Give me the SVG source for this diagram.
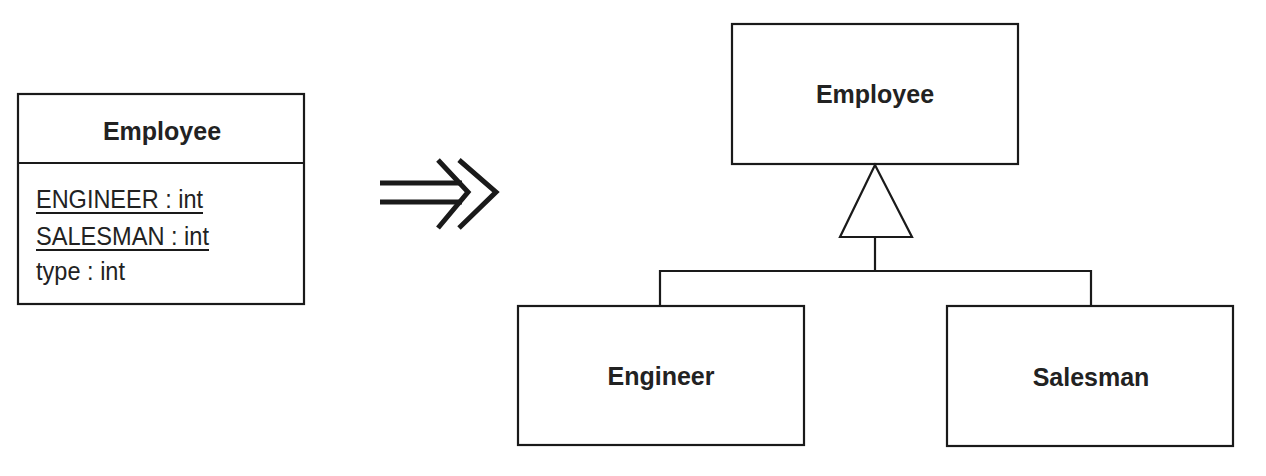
<svg xmlns="http://www.w3.org/2000/svg" width="1266" height="476" viewBox="0 0 1266 476">
<style>
.box{fill:#fff;stroke:#1a1a1a;stroke-width:2.2}
.ln{fill:none;stroke:#1a1a1a;stroke-width:2.2}
.t{font-family:"Liberation Sans",Arial,sans-serif;font-weight:bold;font-size:25px;fill:#222;text-anchor:middle}
.a{font-family:"Liberation Sans",Arial,sans-serif;font-size:25px;fill:#222}
.arr{fill:none;stroke:#1a1a1a;stroke-width:5;stroke-linecap:butt}
</style>
<rect width="1266" height="476" fill="#fff"/>
<g id="employee-old">
<rect class="box" x="18" y="94" width="286" height="210"/>
<line class="ln" x1="18" y1="163" x2="304" y2="163"/>
<text class="t" x="162" y="140">Employee</text>
<text class="a" x="36" y="208" textLength="167" lengthAdjust="spacingAndGlyphs">ENGINEER : int</text>
<line class="ln" x1="36" y1="213" x2="203" y2="213" stroke-width="2"/>
<text class="a" x="36" y="245" textLength="173" lengthAdjust="spacingAndGlyphs">SALESMAN : int</text>
<line class="ln" x1="36" y1="250" x2="209" y2="250" stroke-width="2"/>
<text class="a" x="36" y="280" textLength="89" lengthAdjust="spacingAndGlyphs">type : int</text>
</g>
<g id="refactor-arrow">
<line class="arr" x1="380" y1="183" x2="462" y2="183"/>
<line class="arr" x1="380" y1="202" x2="462" y2="202"/>
<polyline class="arr" points="438,160 468,192 438,228"/>
<polyline class="arr" points="459,160 496,192 459,228"/>
</g>
<g id="employee">
<rect class="box" x="732" y="24" width="286" height="140"/>
<text class="t" x="875" y="103">Employee</text>
</g>
<g id="engineer">
<rect class="box" x="518" y="306" width="286" height="139"/>
<text class="t" x="661" y="385">Engineer</text>
</g>
<g id="salesman">
<rect class="box" x="947" y="306" width="286" height="140"/>
<text class="t" x="1091" y="386">Salesman</text>
</g>
<g id="connectors">
<polygon class="ln" points="875,165 912,237 840,237"/>
<line class="ln" x1="875" y1="237" x2="875" y2="271"/>
<polyline class="ln" points="660,306 660,271 1091,271 1091,306"/>
</g>
</svg>
